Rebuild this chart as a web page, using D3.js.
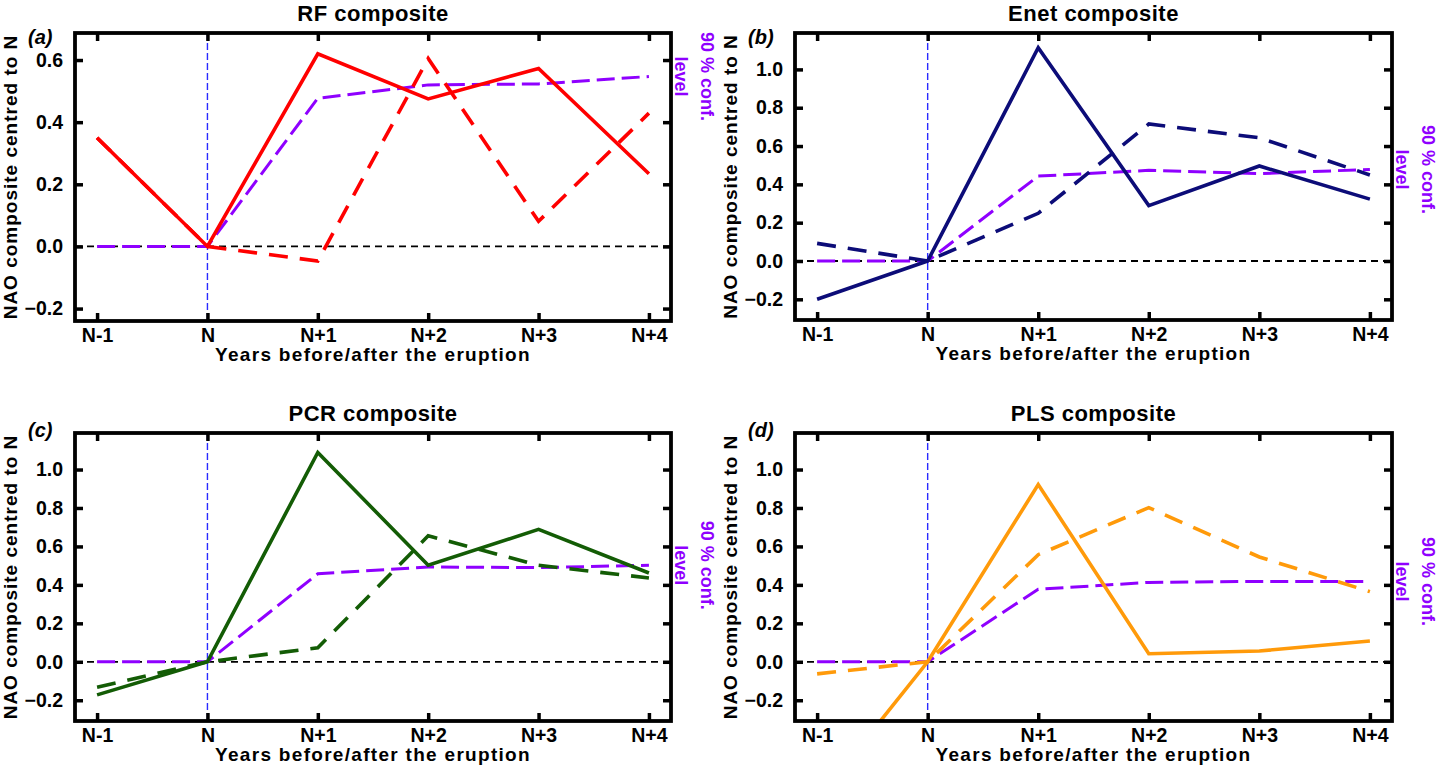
<!DOCTYPE html>
<html>
<head>
<meta charset="utf-8">
<script src="https://cdn.jsdelivr.net/npm/d3@7"></script>
<style>
    body { margin: 0; background: #fff; }
    text { font-family: "Liberation Sans", Arial, sans-serif; font-weight: bold; }
</style>
</head>
<body>
<div id="chart"></div>
<script>
// x categories
const yearLabels = ["N-1", "N", "N+1", "N+2", "N+3", "N+4"];
const yearOffsets = [-1, 0, 1, 2, 3, 4];

// RF
const rfSolid = [0.35, 0, 0.62, 0.475, 0.573, 0.234];
const rfDashed = [0.35, 0, -0.047, 0.605, 0.081, 0.429];
const rfConf = [0, 0, 0.477, 0.52, 0.523, 0.547];

// Enet
const enetSolid = [-0.2, 0, 1.113, 0.289, 0.496, 0.323];
const enetDashed = [0.092, 0, 0.249, 0.715, 0.643, 0.449];
const enetConf = [0, 0, 0.443, 0.473, 0.456, 0.478];

// PCR
const pcrSolid = [-0.172, 0, 1.089, 0.502, 0.689, 0.462];
const pcrDashed = [-0.132, 0, 0.073, 0.655, 0.502, 0.436];
const pcrConf = [0, 0, 0.458, 0.493, 0.49, 0.502];

// PLS
const plsSolid = [-0.72, 0, 0.922, 0.042, 0.056, 0.108];
const plsDashed = [-0.063, 0, 0.557, 0.802, 0.545, 0.365];
const plsConf = [0, 0, 0.377, 0.413, 0.418, 0.418];

const yTicksSmall = [-0.2, 0, 0.2, 0.4, 0.6];
const yTicksLarge = [-0.2, 0, 0.2, 0.4, 0.6, 0.8, 1.0];

const confColor = "#8f00ff";

class CompositePanel {
    constructor(svg, opts) {
        this.svg = svg;
        this.opts = opts;
        this.initVis();
    }

    initVis() {
        let vis = this;
        let o = vis.opts;

        vis.g = vis.svg.append("g");

        vis.x = d3.scaleLinear()
            .domain([-1.2, 4.2])
            .range([o.left, o.right]);

        vis.y = d3.scaleLinear()
            .domain(o.yDomain)
            .range([o.bottom, o.top]);

        let clipId = "clip-" + o.tag;
        vis.svg.append("clipPath")
            .attr("id", clipId)
            .append("rect")
            .attr("x", o.left)
            .attr("y", o.top)
            .attr("width", o.right - o.left)
            .attr("height", o.bottom - o.top);

        vis.plot = vis.g.append("g").attr("clip-path", `url(#${clipId})`);

        this.updateVis();
    }

    updateVis() {
        let vis = this;
        let o = vis.opts;

        // zero line + eruption year
        vis.plot.append("line")
            .attr("x1", o.left).attr("x2", o.right)
            .attr("y1", vis.y(0)).attr("y2", vis.y(0))
            .attr("stroke", "#000")
            .attr("stroke-width", 1.8)
            .attr("stroke-dasharray", "7,5");

        vis.plot.append("line")
            .attr("x1", vis.x(0)).attr("x2", vis.x(0))
            .attr("y1", o.top).attr("y2", o.bottom)
            .attr("stroke", "#2a2aff")
            .attr("stroke-width", 1.4)
            .attr("stroke-dasharray", "7,3");

        let line = d3.line()
            .x((d, i) => vis.x(yearOffsets[i]))
            .y(d => vis.y(d));

        vis.plot.append("path")
            .datum(o.conf)
            .attr("d", line)
            .attr("fill", "none")
            .attr("stroke", confColor)
            .attr("stroke-width", 3)
            .attr("stroke-dasharray", "18,7");

        vis.plot.append("path")
            .datum(o.dashed)
            .attr("d", line)
            .attr("fill", "none")
            .attr("stroke", o.color)
            .attr("stroke-width", 3.6)
            .attr("stroke-dasharray", "19,12");

        vis.plot.append("path")
            .datum(o.solid)
            .attr("d", line)
            .attr("fill", "none")
            .attr("stroke", o.color)
            .attr("stroke-width", 3.6);

        // axes, ticks inside on all four sides
        let xAxis = d3.axisBottom(vis.x).tickValues(yearOffsets)
            .tickFormat((d, i) => yearLabels[i]).tickSizeInner(-8).tickSizeOuter(0).tickPadding(7);
        let xTop = d3.axisTop(vis.x).tickValues(yearOffsets)
            .tickFormat("").tickSizeInner(-8).tickSizeOuter(0);
        let yAxis = d3.axisLeft(vis.y).tickValues(o.yTicks)
            .tickFormat(d3.format(".1f")).tickSizeInner(-8).tickSizeOuter(0).tickPadding(12);
        let yRight = d3.axisRight(vis.y).tickValues(o.yTicks)
            .tickFormat("").tickSizeInner(-8).tickSizeOuter(0);

        let axes = [
            [xAxis, `translate(0,${o.bottom})`],
            [xTop, `translate(0,${o.top})`],
            [yAxis, `translate(${o.left},0)`],
            [yRight, `translate(${o.right},0)`]
        ];
        axes.forEach(a => {
            let ag = vis.g.append("g").attr("transform", a[1]).call(a[0]);
            ag.select(".domain").remove();
            ag.selectAll(".tick line").attr("stroke", "#000").attr("stroke-width", 3.5);
            ag.selectAll(".tick text")
                .attr("fill", "#000")
                .style("font-size", "19.5px")
                .style("font-family", "'Liberation Sans', Arial, sans-serif")
                .style("font-weight", "bold");
        });

        vis.g.append("rect")
            .attr("x", o.left).attr("y", o.top)
            .attr("width", o.right - o.left)
            .attr("height", o.bottom - o.top)
            .attr("fill", "none")
            .attr("stroke", "#000")
            .attr("stroke-width", 3.8);

        let cx = (o.left + o.right) / 2;

        vis.g.append("text")
            .attr("x", cx).attr("y", o.top - 12.5)
            .attr("text-anchor", "middle")
            .style("font-size", "22px")
            .style("letter-spacing", "0.5px")
            .text(o.title);

        vis.g.append("text")
            .attr("x", o.left - 47).attr("y", o.top + o.letterDy)
            .style("font-size", "20px")
            .style("font-style", "italic")
            .text(o.letter);

        vis.g.append("text")
            .attr("x", cx).attr("y", o.bottom + 40)
            .attr("text-anchor", "middle")
            .style("font-size", "19px")
            .style("letter-spacing", "1.3px")
            .text("Years before/after the eruption");

        vis.g.append("text")
            .attr("transform", `translate(${o.left - 58},${(o.top + o.bottom) / 2}) rotate(-90)`)
            .attr("text-anchor", "middle")
            .style("font-size", "19px")
            .style("letter-spacing", "1px")
            .text("NAO composite centred to N");

        // 90% confidence label, placed at the last conf. value
        let cy = vis.y(o.conf[o.conf.length - 1]);
        vis.g.append("text")
            .attr("transform", `translate(${o.right + 30},${cy}) rotate(90)`)
            .attr("text-anchor", "middle")
            .attr("fill", confColor)
            .style("font-size", "18px")
            .text("90 % conf.");
        vis.g.append("text")
            .attr("transform", `translate(${o.right + 4},${cy}) rotate(90)`)
            .attr("text-anchor", "middle")
            .attr("fill", confColor)
            .style("font-size", "18px")
            .text("level");
    }
}

let svg = d3.select("#chart").append("svg")
    .attr("width", 1438)
    .attr("height", 774);

new CompositePanel(svg, {
    tag: "a", title: "RF composite", letter: "(a)", letterDy: 11,
    left: 75, right: 671, top: 33, bottom: 321,
    yDomain: [-0.24, 0.687], yTicks: yTicksSmall,
    color: "#ff0000", solid: rfSolid, dashed: rfDashed, conf: rfConf
});
new CompositePanel(svg, {
    tag: "b", title: "Enet composite", letter: "(b)", letterDy: 11,
    left: 795, right: 1392, top: 33, bottom: 320,
    yDomain: [-0.308, 1.19], yTicks: yTicksLarge,
    color: "#0c0c78", solid: enetSolid, dashed: enetDashed, conf: enetConf
});
new CompositePanel(svg, {
    tag: "c", title: "PCR composite", letter: "(c)", letterDy: 4,
    left: 75, right: 671, top: 433, bottom: 721,
    yDomain: [-0.308, 1.19], yTicks: yTicksLarge,
    color: "#135c05", solid: pcrSolid, dashed: pcrDashed, conf: pcrConf
});
new CompositePanel(svg, {
    tag: "d", title: "PLS composite", letter: "(d)", letterDy: 4,
    left: 795, right: 1392, top: 433, bottom: 721,
    yDomain: [-0.308, 1.19], yTicks: yTicksLarge,
    color: "#ff9a0a", solid: plsSolid, dashed: plsDashed, conf: plsConf
});
</script>
</body>
</html>
